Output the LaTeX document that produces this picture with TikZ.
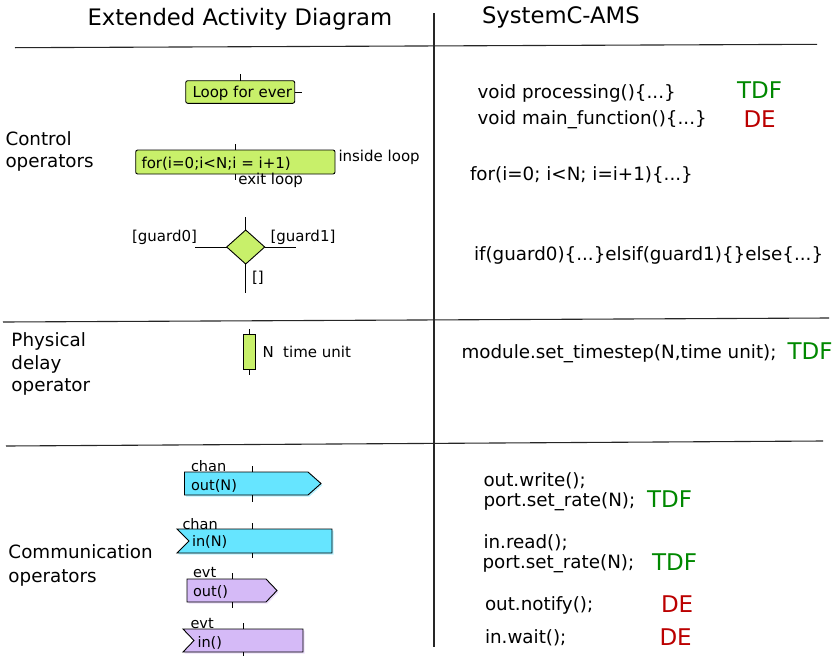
\documentclass[tikz,border=0pt]{standalone}
\usepackage{fontspec}
\setmainfont{DejaVu Sans}
\usetikzlibrary{shapes.geometric}
\definecolor{actgreen}{HTML}{C8F06A}
\definecolor{chanblue}{HTML}{66E5FF}
\definecolor{chanshadow}{HTML}{B8F2FF}
\definecolor{evtpurple}{HTML}{D5BAF7}
\definecolor{evtshadow}{HTML}{EBDDFB}
\definecolor{tdfgreen}{HTML}{008800}
\definecolor{dered}{HTML}{BB0000}
\begin{document}
\begin{tikzpicture}[x=1pt,y=-1pt,
  every node/.style={inner sep=0pt, outer sep=0pt},
  txt/.style={anchor=base west, font=\fontsize{18.3}{22}\selectfont},
  small/.style={anchor=base west, font=\fontsize{15}{18}\selectfont},
  comm/.style={anchor=base west, font=\fontsize{14.5}{17}\selectfont},
  ttl/.style={anchor=base west, font=\fontsize{22.7}{27}\selectfont},
  tdf/.style={anchor=base west, font=\fontsize{23}{27}\selectfont, text=tdfgreen},
  de/.style={anchor=base west, font=\fontsize{23}{27}\selectfont, text=dered},
  divider/.style={line width=1.1pt, black!85},
  stub/.style={line width=0.9pt},
  actbox/.style={draw, fill=actgreen, rounded corners=2pt, line width=0.9pt},
  chanshape/.style={draw, fill=chanblue, line width=0.9pt},
  evtshape/.style={draw, fill=evtpurple, line width=0.9pt},
]
\useasboundingbox (0,0) rectangle (835,656);

% dividers
\draw[divider] (15,47.7) -- (817,44.3);
\draw[divider] (434,13) -- (434,647);
\draw[divider] (3,322) -- (829,318);
\draw[divider] (6,446) -- (823,441);

% titles
\node[ttl] (t1) at (87.5,25.7) {Extended Activity Diagram};
\node[ttl] (t2) at (482,23.3) {SystemC-AMS};

% left labels
\node[txt] (c1) at (5.5,145) {Control};
\node[txt] (c2) at (5.5,167) {operators};
\node[txt] (p1) at (11.5,346.7) {Physical};
\node[txt] (p2) at (11.5,369) {delay};
\node[txt] (p3) at (11.5,391.7) {operator};
\node[txt] (m1) at (8.5,558.5) {Communication};
\node[txt] (m2) at (8.5,582) {operators};

% loop for ever
\node[actbox, minimum width=109pt, minimum height=22.6pt] (loop) at (240.2,92) {};
\node[small] (looptxt) at (192.5,97.3) {Loop for ever};
\draw[stub] (loop.north) -- ++(0,-7);
\draw[stub] (loop.east) -- ++(7,0);

% for loop
\node[actbox, minimum width=199.3pt, minimum height=24pt] (for) at (235.35,162) {};
\node[small] (fortxt) at (141.5,168.7) {for(i=0;i<N;i = i+1)};
\draw[stub] (for.north) -- ++(0,-6);
\draw[stub] (for.south) -- ++(0,5.5);
\node[small] (inside) at (338.5,161.7) {inside loop};
\node[small] (exit) at (238.3,184) {exit loop};

% decision
\node[diamond, draw, fill=actgreen, line width=0.9pt, minimum width=38pt, minimum height=34pt] (dec) at (245.7,247) {};
\draw[stub] (dec.north) -- ++(0,-12.7);
\draw[stub] (dec.south) -- ++(0,29.3);
\draw[stub] (dec.west) -- ++(-32,0);
\draw[stub] (dec.east) -- ++(31.3,0);
\node[small, anchor=base east] (g0) at (197,241.7) {[guard0]};
\node[small] (g1) at (270.5,241.7) {[guard1]};
\node[small] (g2) at (252,282.7) {[]};

% delay
\node[draw, fill=actgreen, line width=0.9pt, minimum width=12.4pt, minimum height=34.6pt] (delay) at (249.5,352) {};
\draw[stub] (delay.north) -- ++(0,-5.7);
\draw[stub] (delay.south) -- ++(0,5.7);
\node[small] (dlab) at (262.5,357.3) {N~ time unit};

% out(N)
\fill[chanshadow] (186,473.5) -- (309.5,473.5) -- (322.5,485) -- (309.5,496.5) -- (186,496.5) -- cycle;
\draw[chanshape] (184.5,472) -- (308,472) -- (321,483.5) -- (308,495) -- (184.5,495) -- cycle;
\coordinate (oNt) at (252.3,472);
\coordinate (oNb) at (252.3,495);
\draw[stub] (oNt) -- ++(0,-6);
\draw[stub] (oNb) -- ++(0,6.5);
\node[comm] (chan1) at (191,471.7) {chan};
\node[comm] (outN) at (191,490) {out(N)};

% in(N)
\fill[chanshadow] (178.5,530.5) -- (333.5,530.5) -- (333.5,554.5) -- (178.5,554.5) -- (190.5,542.5) -- cycle;
\draw[chanshape] (177,529) -- (332,529) -- (332,553) -- (177,553) -- (189,541) -- cycle;
\coordinate (iNt) at (252.3,529);
\coordinate (iNb) at (252.3,553);
\draw[stub] (iNt) -- ++(0,-5.7);
\draw[stub] (iNb) -- ++(0,5);
\node[comm] (chan2) at (182.5,529) {chan};
\node[comm] (inN) at (192,546.7) {in(N)};

% out()
\fill[evtshadow] (188.5,580.5) -- (267.5,580.5) -- (278.5,592) -- (267.5,603.5) -- (188.5,603.5) -- cycle;
\draw[evtshape] (187,579) -- (266,579) -- (277,590.5) -- (266,602) -- (187,602) -- cycle;
\coordinate (oEt) at (232,579);
\coordinate (oEb) at (232,602);
\draw[stub] (oEt) -- ++(0,-5.7);
\draw[stub] (oEb) -- ++(0,6.3);
\node[comm] (evt1) at (193,577.3) {evt};
\node[comm] (outE) at (193,596.7) {out()};

% in()
\fill[evtshadow] (184.5,630.5) -- (304.5,630.5) -- (304.5,653.5) -- (184.5,653.5) -- (195.5,642) -- cycle;
\draw[evtshape] (183,629) -- (303,629) -- (303,652) -- (183,652) -- (194,640.5) -- cycle;
\coordinate (iEt) at (243.3,629);
\coordinate (iEb) at (243.3,652);
\draw[stub] (iEt) -- ++(0,-5.7);
\draw[stub] (iEb) -- ++(0,4);
\node[comm] (evt2) at (190.5,628.3) {evt};
\node[comm] (inE) at (197.5,647.3) {in()};

% right column
\node[txt] (r1) at (477.5,98.3) {void processing()\{...\}};
\node[txt] (r2) at (477.5,124.3) {void main\_function()\{...\}};
\node[tdf] (r1k) at (737,98.3) {TDF};
\node[de] (r2k) at (743.5,127.3) {DE};
\node[txt] (r3) at (470,180) {for(i=0; i<N; i=i+1)\{...\}};
\node[txt] (r4) at (474,260) {if(guard0)\{...\}elsif(guard1)\{\}else\{...\}};
\node[txt] (r5) at (461.5,358.3) {module.set\_timestep(N,time unit);};
\node[tdf] (r5k) at (787.5,359) {TDF};
\node[txt] (r6) at (483.5,486.7) {out.write();};
\node[txt] (r7) at (483.5,506.7) {port.set\_rate(N);};
\node[tdf] (r7k) at (647,507.7) {TDF};
\node[txt] (r8) at (483.5,548.3) {in.read();};
\node[txt] (r9) at (482.5,568.3) {port.set\_rate(N);};
\node[tdf] (r9k) at (652,570) {TDF};
\node[txt] (r10) at (485,610) {out.notify();};
\node[de] (r10k) at (661,612.7) {DE};
\node[txt] (r11) at (485,643.3) {in.wait();};
\node[de] (r11k) at (659.5,645) {DE};
\end{tikzpicture}
\end{document}
